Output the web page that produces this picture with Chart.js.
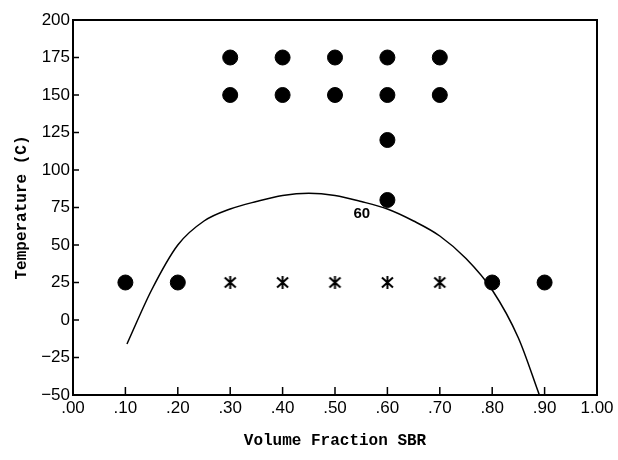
<!doctype html>
<html>
<head>
<title>Temperature vs Volume Fraction SBR</title>
<script src="https://cdn.jsdelivr.net/npm/chart.js@4/dist/chart.umd.min.js"></script>
<style>
  body { margin: 0; background: #fff; }
  #wrap { width: 618px; height: 460px; }
</style>
</head>
<body>
<div id="wrap"><canvas id="canvas1"></canvas></div>
<script>
// filled dots (two phase / one phase points)
var dotX = [0.3, 0.4, 0.5, 0.6, 0.7, 0.3, 0.4, 0.5, 0.6, 0.7, 0.6, 0.6, 0.1, 0.2, 0.8, 0.9];
var dotT = [175, 175, 175, 175, 175, 150, 150, 150, 150, 150, 120, 80, 25, 25, 25, 25];
// asterisks at 25 C
var starX = [0.3, 0.4, 0.5, 0.6, 0.7];
var starT = [25, 25, 25, 25, 25];
// the boundary curve
var curveX = [0.103, 0.15, 0.20, 0.25, 0.30, 0.35, 0.40, 0.45, 0.50, 0.55, 0.60, 0.65, 0.70, 0.75, 0.80, 0.85, 0.89];
var curveT = [-16, 20, 50, 66, 74, 79, 83, 84.5, 83, 79, 74, 66, 56, 41, 20, -12, -50];
// curve label
var curveLabel = '60';
var labelX = 0.551, labelT = 71;

var xTicks = [0, 0.1, 0.2, 0.3, 0.4, 0.5, 0.6, 0.7, 0.8, 0.9, 1.0];
var yTicks = [-50, -25, 0, 25, 50, 75, 100, 125, 150, 175, 200];

function pts(xs, ys) {
    var out = [];
    for (var i = 0; i < xs.length; i++) out.push({x: xs[i], y: ys[i]});
    return out;
}

// asterisk marker: an X with a vertical bar
var star = document.createElement('canvas');
star.width = 15; star.height = 15;
var sc = star.getContext('2d');
sc.strokeStyle = '#000';
sc.lineWidth = 2;
sc.beginPath();
sc.moveTo(2, 2.5); sc.lineTo(13, 12.5);
sc.moveTo(13, 2.5); sc.lineTo(2, 12.5);
sc.moveTo(7.5, 1); sc.lineTo(7.5, 14);
sc.stroke();

// box, inner ticks and the curve label
var framePlugin = {
    id: 'frame',
    afterDraw: function(chart) {
        var ctx = chart.ctx, a = chart.chartArea;
        var xs = chart.scales.x, ys = chart.scales.y;
        ctx.save();
        ctx.strokeStyle = '#000';
        ctx.lineWidth = 2;
        ctx.strokeRect(a.left, a.top, a.right - a.left, a.bottom - a.top);
        ctx.lineWidth = 1.5;
        ctx.beginPath();
        xTicks.forEach(function(v) {
            var px = xs.getPixelForValue(v);
            ctx.moveTo(px, a.bottom); ctx.lineTo(px, a.bottom - 8);
        });
        yTicks.forEach(function(v) {
            var py = ys.getPixelForValue(v);
            ctx.moveTo(a.left, py); ctx.lineTo(a.left + 6, py);
        });
        ctx.stroke();
        ctx.fillStyle = '#000';
        ctx.font = 'bold 15px "Liberation Sans", Arial, sans-serif';
        ctx.textAlign = 'center';
        ctx.textBaseline = 'middle';
        ctx.fillText(curveLabel, xs.getPixelForValue(labelX), ys.getPixelForValue(labelT));
        ctx.restore();
    }
};

window.onload = function() {
    var ctx1 = document.getElementById('canvas1').getContext('2d');
    window.myChart = new Chart(ctx1, {
        type: 'scatter',
        data: {
            datasets: [
                {
                    label: 'curve',
                    data: pts(curveX, curveT),
                    showLine: true,
                    borderColor: '#000',
                    borderWidth: 1.5,
                    pointRadius: 0,
                    tension: 0.4,
                    cubicInterpolationMode: 'monotone',
                    fill: false
                },
                {
                    label: 'dots',
                    data: pts(dotX, dotT),
                    backgroundColor: '#000',
                    borderColor: '#000',
                    pointRadius: 7.5,
                    pointStyle: 'circle'
                },
                {
                    label: 'stars',
                    data: pts(starX, starT),
                    pointStyle: star,
                    pointRadius: 7
                }
            ]
        },
        options: {
            responsive: true,
            maintainAspectRatio: false,
            animation: false,
            layout: { padding: { top: 20, right: 21, left: 0, bottom: 0 } },
            plugins: {
                legend: { display: false },
                tooltip: { enabled: false }
            },
            scales: {
                x: {
                    type: 'linear',
                    min: 0, max: 1,
                    afterFit: function(s) { s.height = 65; },
                    afterBuildTicks: function(s) {
                        s.ticks = xTicks.map(function(v) { return {value: v}; });
                    },
                    grid: { drawOnChartArea: false, drawTicks: false },
                    border: { display: true, color: '#000', width: 2 },
                    ticks: {
                        color: '#000',
                        padding: 3,
                        maxRotation: 0,
                        autoSkip: false,
                        font: { family: '"Liberation Sans", Arial, sans-serif', size: 17 },
                        callback: function(v) {
                            var s = Number(v).toFixed(2);
                            return s.charAt(0) === '0' ? s.substring(1) : s;
                        }
                    },
                    title: {
                        display: true,
                        text: 'Volume Fraction SBR',
                        color: '#000',
                        font: { family: '"Liberation Mono", "Courier New", monospace', size: 16, weight: 'bold' },
                        padding: { top: 0, bottom: 9 }
                    }
                },
                y: {
                    type: 'linear',
                    min: -50, max: 200,
                    afterFit: function(s) { s.width = 73; },
                    afterBuildTicks: function(s) {
                        s.ticks = yTicks.map(function(v) { return {value: v}; });
                    },
                    grid: { drawOnChartArea: false, drawTicks: false },
                    border: { display: true, color: '#000', width: 2 },
                    ticks: {
                        color: '#000',
                        padding: 3,
                        autoSkip: false,
                        font: { family: '"Liberation Sans", Arial, sans-serif', size: 17 },
                        callback: function(v) {
                            return v < 0 ? '\u2212' + Math.abs(v) : String(v);
                        }
                    },
                    title: {
                        display: true,
                        text: 'Temperature (C)',
                        color: '#000',
                        font: { family: '"Liberation Mono", "Courier New", monospace', size: 16, weight: 'bold' },
                        padding: { top: 12, bottom: 0 }
                    }
                }
            }
        },
        plugins: [framePlugin]
    });
};
</script>
</body>
</html>
